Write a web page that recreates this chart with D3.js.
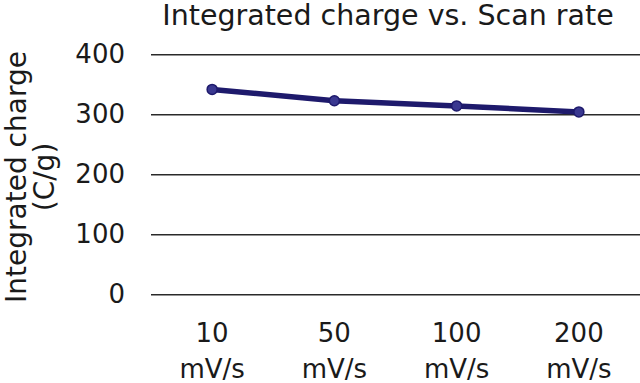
<!DOCTYPE html>
<html>
<head>
<meta charset="utf-8">
<script src="https://cdn.jsdelivr.net/npm/d3@7"></script>
<style>
  body { margin: 0; background: #fff; }
  text { font-family: "DejaVu Sans", Verdana, sans-serif; fill: #1a1a1a; }
</style>
</head>
<body>
<svg width="640" height="383"></svg>
<script>
// data
var rates = ["10", "50", "100", "200"];
var rateUnit = "mV/s";
var charge = [341.5, 322.5, 314, 304];
var yTicks = [0, 100, 200, 300, 400];

var svg = d3.select("svg"),
    margin = {top: 54.3, right: 0, bottom: 88.7, left: 151},
    width = +svg.attr("width") - margin.left - margin.right,
    height = +svg.attr("height") - margin.top - margin.bottom,
    g = svg.append("g").attr("transform", "translate(" + margin.left + "," + margin.top + ")");

var x = d3.scaleBand().domain(rates).range([0, width]);
var y = d3.scaleLinear().domain([0, 400]).range([height, 0]);

// gridlines + y labels
var yAxis = g.append("g")
    .call(d3.axisLeft(y).tickValues(yTicks).tickSize(-width).tickPadding(26));
yAxis.select(".domain").remove();
yAxis.selectAll(".tick line").attr("stroke", "#2a2a2a").attr("stroke-width", 1.5);
yAxis.selectAll(".tick text").attr("font-size", 26).attr("fill", "#1a1a1a");

// x labels, two lines each
var xAxis = g.append("g")
    .attr("transform", "translate(0," + height + ")")
    .call(d3.axisBottom(x).tickSize(0).tickPadding(0));
xAxis.select(".domain").remove();
xAxis.selectAll(".tick text").remove();
var xl = xAxis.selectAll(".tick").append("text")
    .attr("text-anchor", "middle")
    .attr("font-size", 26);
xl.append("tspan").attr("x", 0).attr("y", 47.5).text(function(d) { return d; });
xl.append("tspan").attr("x", 0).attr("y", 83.5).text(rateUnit);

// line
var pts = rates.map(function(r, i) { return [r, charge[i]]; });
g.append("path")
    .datum(pts)
    .attr("fill", "none")
    .attr("stroke", "#1e1a6c")
    .attr("stroke-width", 5.5)
    .attr("stroke-linejoin", "round")
    .attr("d", d3.line()
        .x(function(d) { return x(d[0]) + x.bandwidth() / 2; })
        .y(function(d) { return y(d[1]); }));

g.selectAll("circle")
    .data(pts)
    .enter().append("circle")
      .attr("cx", function(d) { return x(d[0]) + x.bandwidth() / 2; })
      .attr("cy", function(d) { return y(d[1]); })
      .attr("r", 5)
      .attr("fill", "#3a3890")
      .attr("stroke", "#1e1a6c")
      .attr("stroke-width", 1.5);

// title
svg.append("text")
    .attr("x", 388)
    .attr("y", 25)
    .attr("text-anchor", "middle")
    .attr("font-size", 28.5)
    .text("Integrated charge vs. Scan rate");

// y title
var yt = svg.append("text")
    .attr("transform", "translate(0,177) rotate(-90)")
    .attr("text-anchor", "middle")
    .attr("font-size", 28);
yt.append("tspan").attr("x", 0).attr("y", 26).text("Integrated charge");
yt.append("tspan").attr("x", 0).attr("y", 54).text("(C/g)");
</script>
</body>
</html>
